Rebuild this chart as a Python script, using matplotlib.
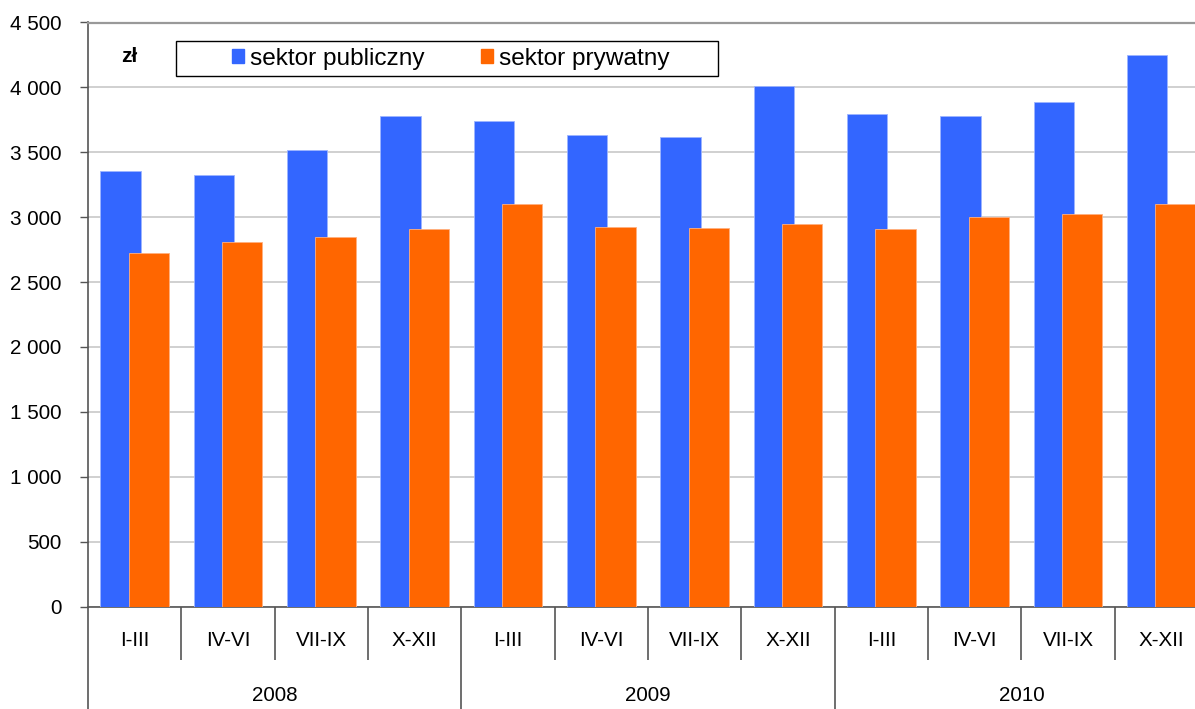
import numpy as np
import matplotlib
matplotlib.use('Agg')
import matplotlib.pyplot as plt
from matplotlib.patches import Patch, Rectangle
from matplotlib.ticker import FuncFormatter

# -Daten---------------------------------------------------------------------------------------------------------------#

kwartaly = ['I-III', 'IV-VI', 'VII-IX', 'X-XII'] * 3
lata = ['2008', '2009', '2010']
publiczny = [3354, 3328, 3518, 3779, 3744, 3631, 3615, 4013, 3795, 3779, 3889, 4251]
prywatny = [2723, 2808, 2849, 2908, 3098, 2923, 2913, 2946, 2910, 3000, 3025, 3102]

# -Diagramm------------------------------------------------------------------------------------------------------------#

plt.rcParams['font.family'] = ['Liberation Sans', 'DejaVu Sans']

W, H = 1195, 709
fig = plt.figure(figsize=(W / 100, H / 100), dpi=100)
# Plotbereich ragt rechts etwas ueber das Bild hinaus (wie im Original)
left, right, top, bottom = 88, 1208, 22.5, 606.5
ax = fig.add_axes([left / W, 1 - bottom / H, (right - left) / W, (bottom - top) / H])

x = np.arange(len(kwartaly))
bw = 0.435
ax.bar(x - 0.152, publiczny, bw, color='#3366FF', edgecolor='#9DB5FF', lw=0.6, zorder=3)
ax.bar(x + 0.152, prywatny, bw, color='#FF6600', edgecolor='#FFB080', lw=0.6, zorder=4)

ax.set_xlim(-0.5, len(kwartaly) - 0.5)
ax.set_ylim(0, 4500)
ax.set_yticks(np.arange(0, 4501, 500))
ax.yaxis.set_major_formatter(FuncFormatter(lambda v, p: '{:,}'.format(int(v)).replace(',', ' ')))
ax.tick_params(axis='y', length=6, width=1, color='#555555', pad=13, labelsize=14.9)
ax.grid(axis='y', color='#C4C4C4', lw=1.1, zorder=0)

ax.spines['right'].set_visible(False)
ax.spines['top'].set_color('#999999')
ax.spines['top'].set_linewidth(1.6)
ax.spines['left'].set_color('#555555')
ax.spines['left'].set_linewidth(1.2)
ax.spines['bottom'].set_color('#555555')
ax.spines['bottom'].set_linewidth(1.2)

# x-Achse mit zwei Ebenen: Quartale und Jahre
ax.set_xticks(np.arange(-0.5, len(kwartaly), 4))
ax.set_xticks(np.arange(-0.5, len(kwartaly), 1), minor=True)
ax.set_xticklabels([])
ax.tick_params(axis='x', which='major', direction='out', length=80, width=1.2, color='#555555')
ax.tick_params(axis='x', which='minor', direction='out', length=38, width=1.2, color='#555555')

trans = ax.get_xaxis_transform()
for i, q in enumerate(kwartaly):
    ax.text(i, -0.058, q, transform=trans, ha='center', va='center', fontsize=14.9)
for j, rok in enumerate(lata):
    ax.text(4 * j + 1.5, -0.152, rok, transform=trans, ha='center', va='center', fontsize=14.9)

ax.text(129 / W, 1 - 57 / H, 'zł', transform=fig.transFigure, ha='center', va='center',
        fontsize=15, fontweight='bold')

# Legende mit eigenem Rahmen
fig.patches.append(Rectangle((176 / W, 1 - 76 / H), 542 / W, 35 / H, transform=fig.transFigure,
                             fill=False, edgecolor='black', lw=1.0))
handles = [Patch(color='#3366FF', label='sektor publiczny'), Patch(color='#FF6600', label='sektor prywatny')]
fig.legend(handles=handles, ncol=2, loc='center', fontsize=17.6,
           bbox_to_anchor=(451 / W, 1 - 58.5 / H), frameon=False,
           handlelength=0.5, handleheight=0.5, handletextpad=0.25, columnspacing=2.3,
           borderpad=0, borderaxespad=0)

fig.savefig('out.png', dpi=100)
